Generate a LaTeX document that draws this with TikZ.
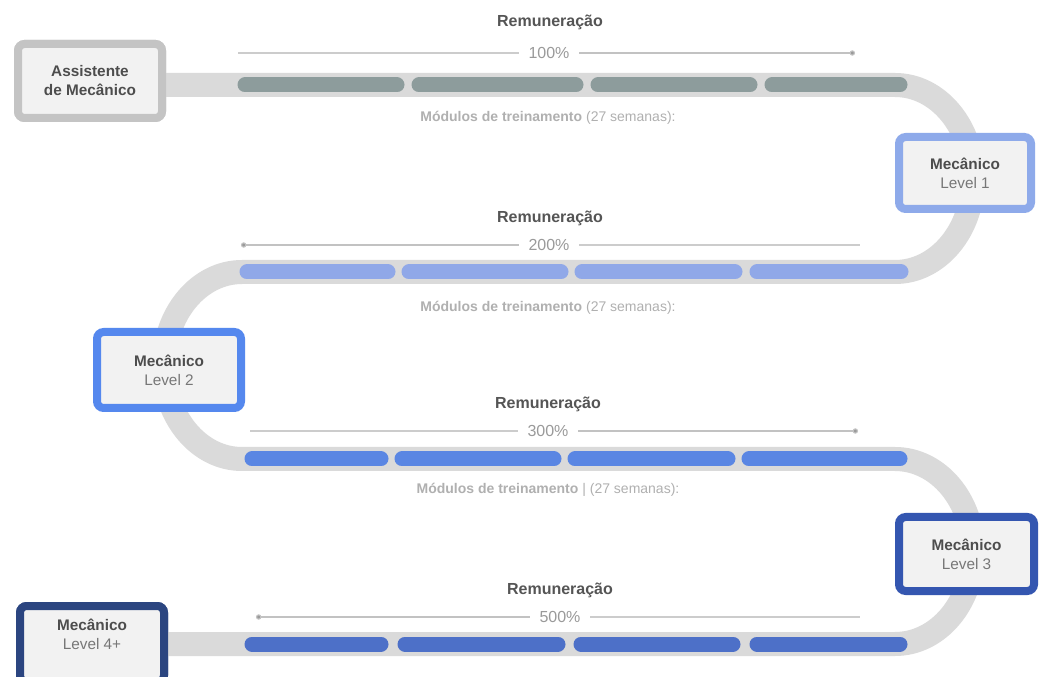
\documentclass[tikz,border=0pt]{standalone}
\usepackage{fontspec}
\setmainfont{Liberation Sans}
\usetikzlibrary{arrows.meta}
\definecolor{trackgray}{HTML}{DADADA}
\definecolor{segA}{HTML}{8D9C9C}
\definecolor{segB}{HTML}{90A8E8}
\definecolor{segC}{HTML}{5A86E3}
\definecolor{segD}{HTML}{4D70C8}
\definecolor{bordA}{HTML}{C4C4C4}
\definecolor{bordB}{HTML}{8EAAEA}
\definecolor{bordC}{HTML}{5588EE}
\definecolor{bordD}{HTML}{3456B0}
\definecolor{bordE}{HTML}{2B4580}
\definecolor{boxfill}{HTML}{F2F2F2}
\definecolor{textdark}{HTML}{4D4D4D}
\definecolor{textmid}{HTML}{777777}
\definecolor{remtext}{HTML}{555555}
\definecolor{pcttext}{HTML}{9A9A9A}
\definecolor{modtext}{HTML}{B0B0B0}
\definecolor{linegray}{HTML}{CCCCCC}
\tikzset{
  track/.style={draw=trackgray, line width=18pt},
  seg/.style={line width=11.25pt, line cap=round},
  stagebox/.style={rectangle, rounded corners=5pt, line width=6pt, fill=boxfill,
    align=center, inner sep=0pt, text=textdark,
    font=\fontsize{11.5}{14.25}\selectfont},
  remlabel/.style={font=\fontsize{12}{14}\selectfont\bfseries, text=remtext, inner sep=1pt},
  pctlabel/.style={font=\fontsize{12}{14}\selectfont, text=pcttext, fill=white, inner xsep=7pt, inner ysep=1pt},
  modlabel/.style={font=\fontsize{10.5}{12}\selectfont, text=modtext, inner sep=1pt},
  rline/.style={draw=linegray, line width=0.8pt},
  dot/.tip={Circle[length=4pt]},
}
\begin{document}
\begin{tikzpicture}[x=0.75pt, y=-0.75pt]
\useasboundingbox (0,0) rectangle (1040,677);
\fill[white] (0,0) rectangle (1040,677);

% track turning points
\coordinate (t1) at (895,85);
\coordinate (t2) at (242,272);
\coordinate (t3) at (895,459);
\coordinate (t4) at (242,644);

\node[stagebox, draw=bordA, minimum width=108pt, minimum height=55.5pt] (b0) at (90,81) {};
\node[stagebox, draw=bordE, minimum width=108pt, minimum height=57pt] (b4) at (92,644) {};

% track
\draw[track] (b0.center |- t1) -- (t1)
  arc[start angle=-90, end angle=90, x radius=78, y radius=93.5] -- (t2)
  arc[start angle=270, end angle=90, x radius=78, y radius=93.5] -- (t3)
  arc[start angle=-90, end angle=90, x radius=78, y radius=92.5] -- (b4.center |- t4);

% segments
\foreach \a/\b in {245/397, 419/576, 598/750, 772/900}
  \draw[seg, draw=segA] (\a,85) -- (\b,85);
\foreach \a/\b in {247/388, 409/561, 582/735, 757/901}
  \draw[seg, draw=segB] (\a,272) -- (\b,272);
\foreach \a/\b in {252/381, 402/554, 575/728, 749/900}
  \draw[seg, draw=segC] (\a,459) -- (\b,459);
\foreach \a/\b in {252/381, 405/558, 581/733, 757/900}
  \draw[seg, draw=segD] (\a,644) -- (\b,644);

% boxes drawn on top
\node[stagebox, draw=bordA, minimum width=108pt, minimum height=55.5pt] at (b0.center)
  {\textbf{Assistente}\\\textbf{de Mecânico}};
\node[stagebox, draw=bordB, minimum width=99pt, minimum height=54pt] (b1) at (965,173)
  {\textbf{Mecânico}\\{\color{textmid}Level 1}};
\node[stagebox, draw=bordC, minimum width=108pt, minimum height=57pt] (b2) at (169,370)
  {\textbf{Mecânico}\\{\color{textmid}Level 2}};
\node[stagebox, draw=bordD, minimum width=101.25pt, minimum height=55.5pt] (b3) at (966.5,554)
  {\textbf{Mecânico}\\{\color{textmid}Level 3}};
\node[stagebox, draw=bordE, minimum width=108pt, minimum height=57pt] at (b4.center) {};
\node[align=center, inner sep=0pt, text=textdark, font=\fontsize{11.5}{14.25}\selectfont] (b4t) at (92,634)
  {\textbf{Mecânico}\\{\color{textmid}Level 4+}};

% remuneration labels
\node[remlabel] (r1) at (550,22) {Remuneração};
\node[remlabel] (r2) at (550,218) {Remuneração};
\node[remlabel] (r3) at (548,404) {Remuneração};
\node[remlabel] (r4) at (560,590) {Remuneração};

% percentage lines
\coordinate (l1a) at (238,53);  \coordinate (l1b) at (855,53);
\coordinate (l2a) at (241,245); \coordinate (l2b) at (860,245);
\coordinate (l3a) at (250,431); \coordinate (l3b) at (858,431);
\coordinate (l4a) at (256,617); \coordinate (l4b) at (860,617);
\node[pctlabel] (p1) at (549,53) {100\%};
\node[pctlabel] (p2) at (549,245) {200\%};
\node[pctlabel] (p3) at (548,431) {300\%};
\node[pctlabel] (p4) at (560,617) {500\%};
\draw[rline] (l1a) -- (p1.west);
\draw[rline, -{dot[fill=pcttext]}, pcttext!60] (p1.east) -- (l1b);
\draw[rline, {dot[fill=pcttext]}-, pcttext!60] (l2a) -- (p2.west);
\draw[rline] (p2.east) -- (l2b);
\draw[rline] (l3a) -- (p3.west);
\draw[rline, -{dot[fill=pcttext]}, pcttext!60] (p3.east) -- (l3b);
\draw[rline, {dot[fill=pcttext]}-, pcttext!60] (l4a) -- (p4.west);
\draw[rline] (p4.east) -- (l4b);

% module labels
\node[modlabel] (m1) at (548,118) {\textbf{Módulos de treinamento} (27 semanas):};
\node[modlabel] (m2) at (548,308) {\textbf{Módulos de treinamento} (27 semanas):};
\node[modlabel] (m3) at (548,490) {\textbf{Módulos de treinamento} | (27 semanas):};
\end{tikzpicture}
\end{document}
